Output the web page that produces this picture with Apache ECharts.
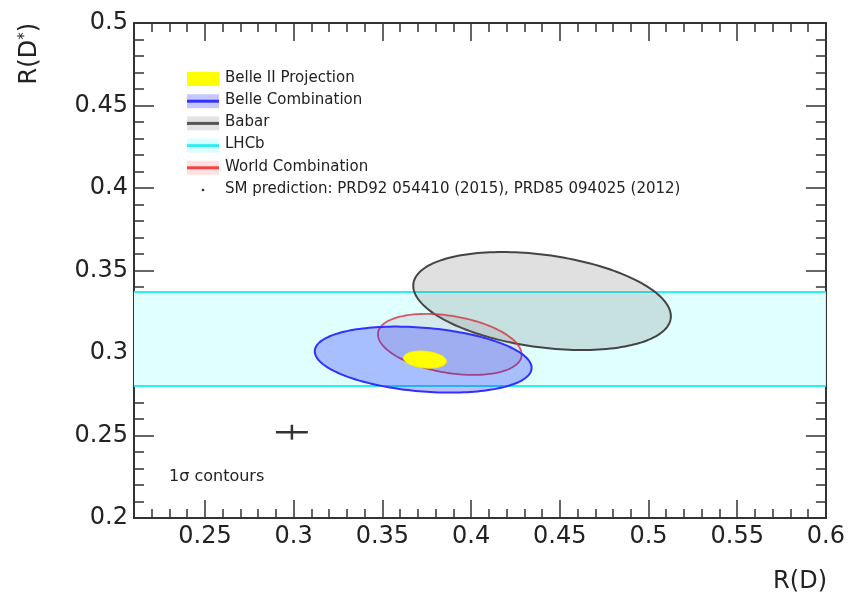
<!DOCTYPE html>
<html>
<head>
<meta charset="utf-8">
<script src="https://cdn.jsdelivr.net/npm/echarts@6/dist/echarts.min.js"></script>
<style>
  html, body { margin: 0; padding: 0; background: #fff; }
  #chart { width: 848px; height: 601px; }
</style>
</head>
<body>
<div id="chart"></div>
<script>
// Axis ranges and tick values
const xRange = [0.21, 0.6];
const yRange = [0.2, 0.5];
const xMajorTicks = [0.25, 0.3, 0.35, 0.4, 0.45, 0.5, 0.55, 0.6];
const yMajorTicks = [0.2, 0.25, 0.3, 0.35, 0.4, 0.45, 0.5];
const minorStep = 0.01;

// 1-sigma contours: [R(D) centre, R(D*) centre, sigma R(D), sigma R(D*), correlation]
const babarContour = [0.440, 0.3315, 0.0726, 0.0297, -0.31];
const worldContour = [0.388, 0.3052, 0.0405, 0.0185, -0.33];
const belleContour = [0.373, 0.296, 0.0611, 0.0200, -0.25];
const belle2Contour = [0.374, 0.296, 0.0121, 0.0052, -0.20];

// LHCb R(D*) band: [low, high]
const lhcbBand = [0.280, 0.337];

// SM prediction: [R(D), R(D*), err R(D), err R(D*)]
const smPrediction = [0.299, 0.252, 0.009, 0.0045];

const legendNames = [
  'Belle II Projection',
  'Belle Combination',
  'Babar',
  'LHCb',
  'World Combination',
  'SM prediction: PRD92 054410 (2015), PRD85 094025 (2012)'
];

const FONT = 'DejaVu Sans';
const INK = '#222';

function contourSeries(name, contour, fill, stroke, lineWidth, z) {
  return {
    type: 'custom',
    name: name,
    coordinateSystem: 'cartesian2d',
    xAxisIndex: 0,
    yAxisIndex: 0,
    z: z,
    data: [contour],
    renderItem: function (params, api) {
      const x0 = api.value(0), y0 = api.value(1);
      const sx = api.value(2), sy = api.value(3), rho = api.value(4);
      const k = Math.sqrt(1 - rho * rho);
      const pts = [];
      const n = 180;
      for (let i = 0; i < n; i++) {
        const t = 2 * Math.PI * i / n;
        pts.push(api.coord([x0 + sx * Math.cos(t), y0 + sy * (rho * Math.cos(t) + k * Math.sin(t))]));
      }
      return {
        type: 'polygon',
        shape: { points: pts },
        style: { fill: fill, stroke: stroke, lineWidth: lineWidth }
      };
    }
  };
}

const bandSeries = {
  type: 'custom',
  name: 'LHCb',
  xAxisIndex: 0,
  yAxisIndex: 0,
  z: 1,
  data: [lhcbBand],
  renderItem: function (params, api) {
    const lo = api.value(0), hi = api.value(1);
    const pLo = api.coord([xRange[0], lo]);
    const pHi = api.coord([xRange[1], hi]);
    return {
      type: 'group',
      children: [
        { type: 'rect', shape: { x: pLo[0], y: pHi[1], width: pHi[0] - pLo[0], height: pLo[1] - pHi[1] },
          style: { fill: '#e0ffff' } },
        { type: 'line', shape: { x1: pLo[0], y1: pHi[1], x2: pHi[0], y2: pHi[1] },
          style: { stroke: '#33eeee', lineWidth: 2 } },
        { type: 'line', shape: { x1: pLo[0], y1: pLo[1], x2: pHi[0], y2: pLo[1] },
          style: { stroke: '#33eeee', lineWidth: 2 } }
      ]
    };
  }
};

const smSeries = {
  type: 'custom',
  name: 'SM prediction',
  xAxisIndex: 0,
  yAxisIndex: 0,
  z: 10,
  data: [smPrediction],
  renderItem: function (params, api) {
    const x = api.value(0), y = api.value(1), ex = api.value(2), ey = api.value(3);
    const l = api.coord([x - ex, y]), r = api.coord([x + ex, y]);
    const b = api.coord([x, y - ey]), t = api.coord([x, y + ey]);
    return {
      type: 'group',
      children: [
        { type: 'line', shape: { x1: l[0], y1: l[1], x2: r[0], y2: r[1] }, style: { stroke: '#333', lineWidth: 2.5 } },
        { type: 'line', shape: { x1: b[0], y1: b[1], x2: t[0], y2: t[1] }, style: { stroke: '#333', lineWidth: 2.5 } }
      ]
    };
  }
};

// Frame axes: one axis per side for minor ticks, one for major ticks
function xAxisPair(position, withLabels) {
  const common = {
    type: 'value', position: position, min: xRange[0], max: xRange[1],
    splitLine: { show: false },
    axisLine: { show: true, onZero: false, lineStyle: { color: '#333', width: 2 } }
  };
  return [
    Object.assign({}, common, {
      interval: minorStep,
      axisTick: { show: true, inside: true, length: 9, lineStyle: { color: '#333', width: 1.5 } },
      axisLabel: { show: false }
    }),
    Object.assign({}, common, {
      axisTick: { show: true, inside: true, length: 18, customValues: xMajorTicks, lineStyle: { color: '#333', width: 1.5 } },
      axisLabel: { show: withLabels, customValues: xMajorTicks, margin: 7, color: INK, fontFamily: FONT, fontSize: 24,
        formatter: function (v) { return String(+v.toFixed(2)); } }
    })
  ];
}
function yAxisPair(position, withLabels) {
  const common = {
    type: 'value', position: position, min: yRange[0], max: yRange[1],
    splitLine: { show: false },
    axisLine: { show: true, onZero: false, lineStyle: { color: '#333', width: 2 } }
  };
  return [
    Object.assign({}, common, {
      interval: minorStep,
      axisTick: { show: true, inside: true, length: 10, lineStyle: { color: '#333', width: 1.5 } },
      axisLabel: { show: false }
    }),
    Object.assign({}, common, {
      axisTick: { show: true, inside: true, length: 20, customValues: yMajorTicks, lineStyle: { color: '#333', width: 1.5 } },
      axisLabel: { show: withLabels, customValues: yMajorTicks, margin: 6, color: INK, fontFamily: FONT, fontSize: 24,
        formatter: function (v) { return String(+v.toFixed(2)); } }
    })
  ];
}

// Legend drawn as ROOT-style swatches
const swatchStyles = [
  { box: '#ffff00', line: null },
  { box: 'rgba(0,0,255,0.22)', line: '#3333ff' },
  { box: 'rgba(100,100,100,0.18)', line: '#555' },
  { box: 'rgba(0,255,255,0.15)', line: '#33eeee' },
  { box: 'rgba(255,0,0,0.12)', line: '#ee4444' },
  { dot: true }
];
const legendGraphics = [];
legendNames.forEach(function (name, i) {
  const cy = 79 + 22.2 * i;
  const s = swatchStyles[i];
  if (s.dot) {
    legendGraphics.push({ type: 'circle', shape: { cx: 203, cy: cy, r: 1.3 }, style: { fill: '#333' } });
  } else {
    legendGraphics.push({ type: 'rect', shape: { x: 187, y: cy - 7, width: 32, height: 14 }, style: { fill: s.box } });
    if (s.line) {
      legendGraphics.push({ type: 'line', shape: { x1: 187, y1: cy, x2: 219, y2: cy }, style: { stroke: s.line, lineWidth: 3 } });
    }
  }
  legendGraphics.push({
    type: 'text', x: 225, y: cy - 1,
    style: { text: name, fill: INK, font: '15px "' + FONT + '"', textVerticalAlign: 'middle', textAlign: 'left' }
  });
});

const chart = echarts.init(document.getElementById('chart'), null, { renderer: 'canvas' });
chart.setOption({
  animation: false,
  backgroundColor: '#fff',
  grid: { left: 134, right: 21, top: 23, bottom: 83 },
  xAxis: xAxisPair('bottom', true).concat(xAxisPair('top', false)),
  yAxis: yAxisPair('left', true).concat(yAxisPair('right', false)),
  series: [
    bandSeries,
    contourSeries('Babar', babarContour, 'rgba(100,100,100,0.2)', '#444', 2, 2),
    contourSeries('World Combination', worldContour, 'rgba(150,110,120,0.15)', 'rgba(210,50,60,0.8)', 1.8, 3),
    contourSeries('Belle Combination', belleContour, 'rgba(0,0,255,0.25)', '#3030ff', 2, 4),
    contourSeries('Belle II Projection', belle2Contour, '#ffff00', '#ffee00', 1, 5),
    smSeries
  ],
  graphic: legendGraphics.concat([
    { type: 'text', x: 169, y: 477,
      style: { text: '1σ contours', fill: INK, font: '16px "' + FONT + '"', textVerticalAlign: 'middle' } },
    { type: 'text', x: 827, y: 582,
      style: { text: 'R(D)', fill: INK, font: '24px "' + FONT + '"', textAlign: 'right', textVerticalAlign: 'middle' } },
    { type: 'text', x: 30, y: 23, rotation: Math.PI / 2,
      style: {
        text: '{a|R(D}{s|*}{a|)}', fill: INK, textAlign: 'right', textVerticalAlign: 'middle',
        rich: {
          a: { fontFamily: FONT, fontSize: 24, fill: INK },
          s: { fontFamily: FONT, fontSize: 15, fill: INK, verticalAlign: 'top' }
        }
      } }
  ])
});
</script>
</body>
</html>
